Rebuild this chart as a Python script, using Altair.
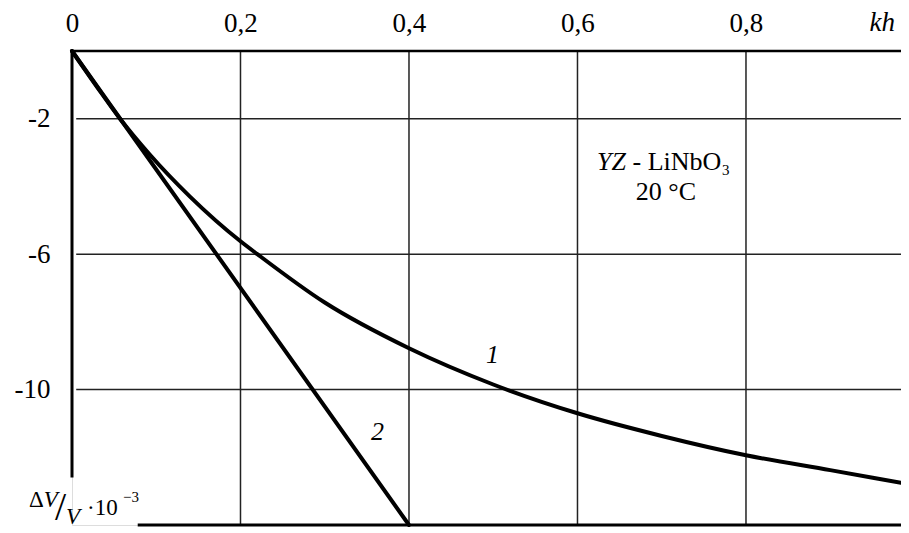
import altair as alt
import pandas as pd

XMAX = 0.984
YMIN = -14.0
FONT = "Liberation Serif"

# curve 1
c1_x = [0, 0.03, 0.057, 0.092, 0.14, 0.2, 0.22, 0.3, 0.4, 0.5, 0.6, 0.7, 0.8, 0.9, 0.984]
c1_y = [0, -1.07, -2.0, -3.05, -4.3, -5.62, -6.0, -7.43, -8.78, -9.85, -10.7, -11.37,
        -11.94, -12.38, -12.75]
# curve 2
c2_x = [0, 0.4]
c2_y = [0, -14]

x_ticks = [0, 0.2, 0.4, 0.6, 0.8]
y_ticks = [-2, -6, -10]
x_grid = [0.2, 0.4, 0.6, 0.8]
y_grid = [-2, -6, -10]

curves = pd.DataFrame(
    {"x": c1_x + c2_x, "y": c1_y + c2_y,
     "curve": ["1"] * len(c1_x) + ["2"] * len(c2_x)}
)

xs = alt.Scale(domain=[0, XMAX], nice=False, zero=False)
ys = alt.Scale(domain=[YMIN, 0], nice=False, zero=False)

xaxis = alt.Axis(orient="top", values=x_ticks, grid=False, domain=False, ticks=False,
                 labelFont=FONT, labelFontSize=27, labelColor="black",
                 labelFlush=False, labelOverlap=False, labelPadding=20,
                 labelBaseline="alphabetic",
                 labelExpr="datum.value == 0 ? '0' : replace(format(datum.value, '.1f'), '.', ',')")
yaxis = alt.Axis(orient="left", values=y_ticks, grid=False, domain=False, ticks=False,
                 labelFont=FONT, labelFontSize=27, labelColor="black",
                 labelOverlap=False, labelPadding=22, labelBaseline="middle",
                 labelExpr="'-' + abs(datum.value)")


def X(f="x"):
    return alt.X(f"{f}:Q", scale=xs, axis=xaxis, title=None)


def Y(f="y"):
    return alt.Y(f"{f}:Q", scale=ys, axis=yaxis, title=None)


vgrid = alt.Chart(pd.DataFrame({"x": x_grid, "y": [0] * 4, "y2": [YMIN] * 4})).mark_rule(
    color="#222", strokeWidth=1.5).encode(x=X(), y=Y(), y2="y2:Q")
hgrid = alt.Chart(pd.DataFrame({"y": y_grid, "x": [0.005] * 3, "x2": [XMAX] * 3})).mark_rule(
    color="#222", strokeWidth=1.5).encode(y=Y(), x=X(), x2="x2:Q")

frame = pd.DataFrame({
    "x": [0, 0, 0.078], "x2": [XMAX, 0, XMAX],
    "y": [0, 0, YMIN], "y2": [0, -12.6, YMIN],
    "w": [2.5, 3, 3],
})
frame_rules = alt.Chart(frame).mark_rule(color="black").encode(
    x=X(), x2="x2:Q", y=Y(), y2="y2:Q",
    strokeWidth=alt.StrokeWidth("w:Q", scale=None, legend=None))

lines = alt.Chart(curves).mark_line(color="black", strokeWidth=4, interpolate="monotone",
                                    strokeCap="round").encode(
    x=X(), y=Y(), detail="curve:N")

# annotation texts
ann = pd.DataFrame({
    "x": [0.4991, 0.3626, 0.6231, 0.6653, 0.7715, 0.7050, 0.977],
    "y": [-9.21, -11.49, -3.50, -3.50, -3.65, -4.40, 0.59],
    "t": ["1", "2", "YZ", "- LiNbO", "3", "20 °C", "kh"],
    "s": [26, 26, 26, 26, 15, 26, 27],
    "style": ["italic", "italic", "italic", "normal", "normal", "normal", "italic"],
    "align": ["center", "center", "left", "left", "left", "center", "right"],
})
texts = []
for _, r in ann.iterrows():
    texts.append(
        alt.Chart(pd.DataFrame([r])).mark_text(
            font=FONT, fontSize=int(r["s"]), fontStyle=r["style"], align=r["align"],
            baseline="alphabetic", color="black").encode(x=X(), y=Y(), text="t:N")
    )

# y title: ΔV / V · 10^-3
yt = pd.DataFrame({
    "x": [-0.0510, -0.0335, -0.0135, -0.0071, 0.0178, 0.0605],
    "y": [-13.47, -13.47, -13.85, -13.97, -13.70, -13.32],
    "t": ["Δ", "V", "/", "V", "·10", "−3"],
    "s": [23, 23, 40, 23, 23, 15],
    "style": ["normal", "italic", "normal", "italic", "normal", "normal"],
    "align": ["left", "left", "center", "left", "left", "left"],
})
for _, r in yt.iterrows():
    texts.append(
        alt.Chart(pd.DataFrame([r])).mark_text(
            font=FONT, fontSize=int(r["s"]), fontStyle=r["style"], align=r["align"],
            baseline="alphabetic", color="black").encode(x=X(), y=Y(), text="t:N")
    )

chart = alt.layer(vgrid, hgrid, lines, frame_rules, *texts).properties(
    width=829, height=474,
    padding={"left": 64, "top": 43, "right": 0, "bottom": 3},
    autosize=alt.AutoSizeParams(type="none"),
).configure_view(stroke=None).configure(background="white").configure_axis(labelFont=FONT)

chart.save("out.html", embed_options={"renderer": "svg", "actions": False})
